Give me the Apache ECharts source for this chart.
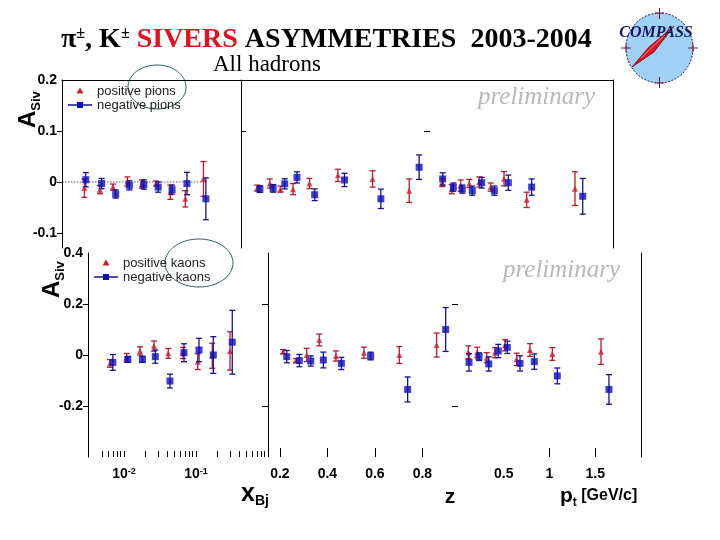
<!DOCTYPE html>
<html><head><meta charset="utf-8">
<script src="https://cdn.jsdelivr.net/npm/echarts@6/dist/echarts.min.js"></script>
<style>html,body{margin:0;padding:0;background:#fff}#c{width:720px;height:540px}</style>
</head><body><div id="c"></div>
<script>
// ---------- data: [x, asymmetry, error] ----------
// top panel: all hadrons (pions)
const pipXbj = [[0.0065,-0.012,0.018],[0.0107,-0.015,0.008],[0.0163,-0.010,0.006],[0.0259,0.001,0.009],[0.0412,-0.004,0.008],[0.0653,-0.003,0.005],[0.103,-0.020,0.014],[0.167,-0.033,0.016],[0.299,0.006,0.034]];
const pimXbj = [[0.0068,0.0045,0.014],[0.0113,-0.003,0.010],[0.0178,-0.0235,0.008],[0.0276,-0.0067,0.009],[0.0440,-0.005,0.009],[0.0697,-0.010,0.010],[0.109,-0.015,0.009],[0.176,-0.003,0.022],[0.323,-0.033,0.041]];
const pipZ = [[0.219,-0.012,0.006],[0.272,-0.003,0.009],[0.317,-0.014,0.006],[0.370,-0.014,0.011],[0.440,-0.003,0.010],[0.560,0.013,0.012],[0.707,0.006,0.016],[0.862,-0.017,0.023]];
const pimZ = [[0.230,-0.014,0.0065],[0.286,-0.0125,0.0075],[0.335,-0.0035,0.010],[0.387,0.009,0.011],[0.462,-0.025,0.0115],[0.588,0.004,0.013],[0.742,-0.033,0.019],[0.904,0.029,0.024]];
const pipPt = [[0.134,-0.001,0.008],[0.237,-0.014,0.009],[0.335,-0.007,0.011],[0.430,-0.003,0.008],[0.539,0.000,0.010],[0.663,-0.010,0.008],[0.809,0.0065,0.014],[1.057,-0.035,0.015],[1.585,-0.013,0.033]];
const pimPt = [[0.139,0.006,0.012],[0.255,-0.010,0.008],[0.353,-0.014,0.008],[0.462,-0.017,0.009],[0.565,-0.0014,0.0105],[0.703,-0.017,0.009],[0.856,-0.0014,0.015],[1.111,-0.010,0.016],[1.669,-0.028,0.035]];
// bottom panel: kaons
const kpXbj = [[0.0064,-0.033,0.015],[0.0109,-0.010,0.016],[0.0167,0.016,0.016],[0.0261,0.035,0.020],[0.0412,0.0065,0.019],[0.066,0.008,0.022],[0.1056,-0.026,0.031],[0.168,-0.003,0.049],[0.297,0.016,0.075]];
const kmXbj = [[0.0070,-0.029,0.031],[0.0113,-0.017,0.011],[0.0180,-0.017,0.012],[0.0272,-0.0065,0.026],[0.0435,-0.102,0.027],[0.0681,0.009,0.035],[0.110,0.0196,0.046],[0.174,0.0,0.072],[0.319,0.05,0.125]];
const kpZ = [[0.214,0.013,0.008],[0.268,-0.022,0.008],[0.313,0.0,0.026],[0.366,0.059,0.023],[0.436,-0.004,0.020],[0.554,0.009,0.022],[0.703,0.0,0.033],[0.860,0.039,0.047]];
const kmZ = [[0.229,-0.0065,0.024],[0.282,-0.022,0.024],[0.330,-0.0235,0.020],[0.383,-0.0196,0.031],[0.459,-0.033,0.024],[0.582,-0.004,0.015],[0.738,-0.135,0.049],[0.898,0.100,0.086]];
const kpPt = [[0.113,0.0106,0.025],[0.211,0.0106,0.020],[0.314,-0.0106,0.020],[0.404,0.009,0.020],[0.514,0.038,0.022],[0.641,-0.017,0.024],[0.787,0.0196,0.025],[1.031,0.004,0.025],[1.563,0.013,0.050]];
const kmPt = [[0.120,-0.029,0.034],[0.230,-0.0065,0.015],[0.336,-0.035,0.028],[0.440,0.0157,0.026],[0.539,0.030,0.024],[0.678,-0.033,0.030],[0.834,-0.026,0.030],[1.085,-0.082,0.031],[1.650,-0.135,0.058]];
const zeroLineX = [0.0032, 0.33];

// ---------- axes ----------
const xbjRange = [0.0031623, 1];
const zRange = [0.15, 0.95];
const ptRange = [0, 2];
const topRange = [-0.12941, 0.2];
const botRange = [-0.4, 0.4];
const yLabelsTop = [-0.1, 0, 0.1, 0.2];
const yTicksTop = [-0.1, 0, 0.1];
const yLabelsBot = [-0.2, 0, 0.2, 0.4];
const yTicksBot = [-0.2, 0, 0.2];
const xbjLabels = [0.01, 0.1];
const xbjTicks = [0.005,0.006,0.007,0.008,0.009,0.01,0.02,0.03,0.04,0.05,0.06,0.07,0.08,0.09,0.1,0.2,0.3,0.4,0.5,0.6,0.7,0.8,0.9];
const zTicks = [0.2, 0.4, 0.6, 0.8];
const ptLabels = [0.5, 1, 1.5];
const ptTicks = [1, 1.5];

const SANS = 'Liberation Sans', SERIF = 'Liberation Serif';
const RED = '#cc1f30', REDBAR = '#b81c2e', BLUE = '#0e0ebe', BLUEBAR = '#141488';

const chart = echarts.init(document.getElementById('c'), null, {renderer: 'canvas'});

const grids = [
  {left: 62, top: 80, width: 179, height: 168},
  {left: 241, top: 80, width: 189, height: 168},
  {left: 430, top: 80, width: 183, height: 168},
  {left: 88, top: 253, width: 180, height: 204},
  {left: 268, top: 253, width: 190, height: 204},
  {left: 458, top: 253, width: 183, height: 204}
].map(g => Object.assign({containLabel: false, outerBoundsMode: 'none'}, g));

const blackLine = {color: '#000', width: 1};
const lblStyle = {color: '#000', fontFamily: SANS, fontWeight: 'bold', fontSize: 14};

function ax(extra) {
  return Object.assign({
    splitLine: {show: false},
    axisLine: {show: false, onZero: false, lineStyle: blackLine},
    axisTick: {show: false},
    axisLabel: {show: false}
  }, extra);
}

const xAxes = [
  ax({gridIndex: 0, type: 'log', min: xbjRange[0], max: xbjRange[1], position: 'top', axisLine: {show: true, onZero: false, lineStyle: blackLine}}),
  ax({gridIndex: 1, type: 'value', min: zRange[0], max: zRange[1], position: 'top', axisLine: {show: true, onZero: false, lineStyle: blackLine}}),
  ax({gridIndex: 2, type: 'value', min: ptRange[0], max: ptRange[1], position: 'top', axisLine: {show: true, onZero: false, lineStyle: blackLine}}),
  ax({gridIndex: 3, type: 'log', min: xbjRange[0], max: xbjRange[1], position: 'bottom',
      axisTick: {show: true, inside: true, length: 6, customValues: xbjTicks, lineStyle: blackLine},
      axisLabel: Object.assign({show: true, margin: 10, customValues: xbjLabels,
        formatter: v => v < 0.05 ? '{n|10}{s|-2}' : '{n|10}{s|-1}',
        rich: {n: Object.assign({}, lblStyle), s: Object.assign({}, lblStyle, {fontSize: 9, verticalAlign: 'top'})}}, lblStyle)}),
  ax({gridIndex: 4, type: 'value', min: zRange[0], max: zRange[1], position: 'bottom',
      axisTick: {show: true, inside: true, length: 9, customValues: zTicks, lineStyle: blackLine},
      axisLabel: Object.assign({show: true, margin: 10, customValues: zTicks}, lblStyle)}),
  ax({gridIndex: 5, type: 'value', min: ptRange[0], max: ptRange[1], position: 'bottom',
      axisTick: {show: true, inside: true, length: 9, customValues: ptTicks, lineStyle: blackLine},
      axisLabel: Object.assign({show: true, margin: 10, customValues: ptLabels}, lblStyle)})
];

const yAxes = [
  // 0 top x-panel left
  ax({gridIndex: 0, type: 'value', min: topRange[0], max: topRange[1], position: 'left',
      axisLine: {show: true, onZero: false, lineStyle: blackLine},
      axisTick: {show: true, inside: false, length: 5, customValues: yTicksTop, lineStyle: blackLine},
      axisLabel: Object.assign({show: true, margin: 5, customValues: yLabelsTop}, lblStyle)}),
  // 1 top z-panel left (divider)
  ax({gridIndex: 1, type: 'value', min: topRange[0], max: topRange[1], position: 'left',
      axisLine: {show: true, onZero: false, lineStyle: blackLine},
      axisTick: {show: true, inside: true, length: 5, customValues: [0.1], lineStyle: blackLine}}),
  // 2 top z-panel right (ticks only)
  ax({gridIndex: 1, type: 'value', min: topRange[0], max: topRange[1], position: 'right',
      axisTick: {show: true, inside: true, length: 6, customValues: [0.1], lineStyle: blackLine}}),
  // 3 top pt-panel right border
  ax({gridIndex: 2, type: 'value', min: topRange[0], max: topRange[1], position: 'right',
      axisLine: {show: true, onZero: false, lineStyle: blackLine}}),
  // 4 bottom x-panel left
  ax({gridIndex: 3, type: 'value', min: botRange[0], max: botRange[1], position: 'left',
      axisLine: {show: true, onZero: false, lineStyle: blackLine},
      axisTick: {show: true, inside: false, length: 5, customValues: yTicksBot, lineStyle: blackLine},
      axisLabel: Object.assign({show: true, margin: 5, customValues: yLabelsBot}, lblStyle)}),
  // 5 bottom x-panel right (divider)
  ax({gridIndex: 3, type: 'value', min: botRange[0], max: botRange[1], position: 'right',
      axisLine: {show: true, onZero: false, lineStyle: blackLine},
      axisTick: {show: true, inside: true, length: 6, customValues: [-0.2, 0.2], lineStyle: blackLine}}),
  // 6 bottom z-panel right (ticks only)
  ax({gridIndex: 4, type: 'value', min: botRange[0], max: botRange[1], position: 'right',
      axisTick: {show: true, inside: true, length: 6, customValues: [-0.2, 0.2], lineStyle: blackLine}}),
  // 7 bottom pt-panel right border
  ax({gridIndex: 5, type: 'value', min: botRange[0], max: botRange[1], position: 'right',
      axisLine: {show: true, onZero: false, lineStyle: blackLine}})
];

function errBar(color) {
  return function (params, api) {
    const x = api.value(0), y = api.value(1), e = api.value(2);
    const a = api.coord([x, y + e]), b = api.coord([x, y - e]);
    const w = 3, st = {stroke: color, lineWidth: 1.3};
    return {type: 'group', children: [
      {type: 'line', shape: {x1: a[0], y1: a[1], x2: b[0], y2: b[1]}, style: st},
      {type: 'line', shape: {x1: a[0] - w, y1: a[1], x2: a[0] + w, y2: a[1]}, style: st},
      {type: 'line', shape: {x1: b[0] - w, y1: b[1], x2: b[0] + w, y2: b[1]}, style: st}
    ]};
  };
}

const series = [];
series.push({type: 'line', xAxisIndex: 0, yAxisIndex: 0, data: zeroLineX.map(x => [x, 0]), symbol: 'none',
  lineStyle: {type: [1, 2], color: '#000', width: 1}, z: 1, silent: true});

function panel(xi, yi, pos, neg, names) {
  series.push({type: 'custom', name: names[0] + ' err', xAxisIndex: xi, yAxisIndex: yi, data: pos, encode: {x: 0, y: 1},
    renderItem: errBar(REDBAR), z: 2, silent: true});
  series.push({type: 'scatter', name: names[0], xAxisIndex: xi, yAxisIndex: yi, data: pos.map(d => [d[0], d[1]]),
    symbol: 'triangle', symbolSize: 6, itemStyle: {color: RED}, z: 3, silent: true});
  series.push({type: 'custom', name: names[1] + ' err', xAxisIndex: xi, yAxisIndex: yi, data: neg, encode: {x: 0, y: 1},
    renderItem: errBar(BLUEBAR), z: 4, silent: true});
  series.push({type: 'scatter', name: names[1], xAxisIndex: xi, yAxisIndex: yi, data: neg.map(d => [d[0], d[1]]),
    symbol: 'rect', symbolSize: 7, itemStyle: {color: BLUE}, z: 5, silent: true});
}
const pions = ['positive pions', 'negative pions'], kaons = ['positive kaons', 'negative kaons'];
panel(0, 0, pipXbj, pimXbj, pions);
panel(1, 1, pipZ, pimZ, pions);
panel(2, 3, pipPt, pimPt, pions);
panel(3, 4, kpXbj, kmXbj, kaons);
panel(4, 6, kpZ, kmZ, kaons);
panel(5, 7, kpPt, kmPt, kaons);

// ---------- decorations ----------
const bold = (size, extra) => Object.assign({fontFamily: SANS, fontWeight: 'bold', fontSize: size, fill: '#000'}, extra || {});
const serifB = (size, extra) => Object.assign({fontFamily: SERIF, fontWeight: 'bold', fontSize: size, fill: '#000'}, extra || {});
const legendText = (x, y, t) => ({type: 'text', x: x, y: y, style: {text: t, fontFamily: SANS, fontSize: 13, fill: '#222', verticalAlign: 'middle', align: 'left'}});
function legendBlock(x0, y0, names) {
  return [
    {type: 'polygon', shape: {points: [[x0 + 12, y0 - 3.5], [x0 + 15.5, y0 + 2.5], [x0 + 8.5, y0 + 2.5]]}, style: {fill: RED}},
    legendText(x0 + 29, y0, names[0]),
    {type: 'line', shape: {x1: x0, y1: y0 + 14, x2: x0 + 24, y2: y0 + 14}, style: {stroke: BLUEBAR, lineWidth: 1.5}},
    {type: 'rect', shape: {x: x0 + 9, y: y0 + 11, width: 6, height: 6}, style: {fill: BLUE}},
    legendText(x0 + 29, y0 + 14, names[1])
  ];
}

const graphic = [
  {type: 'text', x: 61, y: 40, style: {text: '{b|π}{p|±}{b|, K}{p|±}{b| }{r|SIVERS}{b| ASYMMETRIES  2003-2004}', align: 'left', verticalAlign: 'middle',
    rich: {b: serifB(28), p: serifB(16, {verticalAlign: 'top'}), r: serifB(28, {fill: '#e3101e'})}}},
  {type: 'text', x: 213, y: 65, style: {text: 'All hadrons', fontFamily: SERIF, fontSize: 23, fill: '#000', verticalAlign: 'middle', align: 'left'}},
  // logo
  {type: 'ellipse', shape: {cx: 659.5, cy: 48, rx: 33.5, ry: 35}, style: {fill: '#9fd2f6', stroke: '#1c1c6a', lineWidth: 1, lineDash: [2, 1.5]}},
  {type: 'line', shape: {x1: 659.5, y1: 8, x2: 659.5, y2: 19}, style: {stroke: '#7a1436', lineWidth: 1}},
  {type: 'line', shape: {x1: 655, y1: 13, x2: 664, y2: 13}, style: {stroke: '#7a1436', lineWidth: 1}},
  {type: 'line', shape: {x1: 659.5, y1: 77, x2: 659.5, y2: 88}, style: {stroke: '#7a1436', lineWidth: 1}},
  {type: 'line', shape: {x1: 655, y1: 83, x2: 664, y2: 83}, style: {stroke: '#7a1436', lineWidth: 1}},
  {type: 'line', shape: {x1: 621, y1: 48, x2: 631, y2: 48}, style: {stroke: '#7a1436', lineWidth: 1}},
  {type: 'line', shape: {x1: 626, y1: 44, x2: 626, y2: 52}, style: {stroke: '#7a1436', lineWidth: 1}},
  {type: 'line', shape: {x1: 688, y1: 48, x2: 698, y2: 48}, style: {stroke: '#7a1436', lineWidth: 1}},
  {type: 'line', shape: {x1: 693, y1: 44, x2: 693, y2: 52}, style: {stroke: '#7a1436', lineWidth: 1}},
  {type: 'polygon', shape: {points: [[632, 67], [649, 47], [674, 26], [654, 52]]}, style: {fill: '#dc1420', stroke: '#7a0810', lineWidth: 0.8}},
  {type: 'line', shape: {x1: 641, y1: 58, x2: 666, y2: 34}, style: {stroke: '#ffb0b0', lineWidth: 0.8}},
  {type: 'text', x: 656, y: 33, style: {text: 'COMPASS', fontFamily: SERIF, fontStyle: 'italic', fontWeight: 'bold', fontSize: 16, fill: '#16165c', align: 'center', verticalAlign: 'middle'}},
  // hand-drawn ellipses
  {type: 'ellipse', shape: {cx: 157, cy: 87, rx: 29, ry: 22}, style: {fill: 'none', stroke: '#2c6262', lineWidth: 1}},
  {type: 'ellipse', shape: {cx: 199, cy: 263, rx: 34, ry: 24}, style: {fill: 'none', stroke: '#2c6262', lineWidth: 1}},
  // preliminary
  {type: 'text', x: 478, y: 97, style: {text: 'preliminary', fontFamily: SERIF, fontStyle: 'italic', fontSize: 25, fill: '#b8b8b8', align: 'left', verticalAlign: 'middle'}},
  {type: 'text', x: 503, y: 270, style: {text: 'preliminary', fontFamily: SERIF, fontStyle: 'italic', fontSize: 25, fill: '#b8b8b8', align: 'left', verticalAlign: 'middle'}},
  // y names
  {type: 'text', x: 28, y: 128, rotation: Math.PI / 2, style: {text: '{a|A}{s|Siv}', align: 'left', verticalAlign: 'middle',
    rich: {a: bold(24, {lineHeight: 30}), s: bold(13, {lineHeight: 12, verticalAlign: 'bottom'})}}},
  {type: 'text', x: 52, y: 298, rotation: Math.PI / 2, style: {text: '{a|A}{s|Siv}', align: 'left', verticalAlign: 'middle',
    rich: {a: bold(24, {lineHeight: 30}), s: bold(13, {lineHeight: 12, verticalAlign: 'bottom'})}}},
  // x names
  {type: 'text', x: 241, y: 494, style: {text: '{a|x}{b|Bj}', align: 'left', verticalAlign: 'middle',
    rich: {a: bold(25, {lineHeight: 28}), b: bold(14, {lineHeight: 14, verticalAlign: 'bottom'})}}},
  {type: 'text', x: 450, y: 497, style: {text: 'z', align: 'center', verticalAlign: 'middle', fontFamily: SANS, fontWeight: 'bold', fontSize: 21, fill: '#000'}},
  {type: 'text', x: 560, y: 496, style: {text: '{p|p}{t|t}{g| [GeV/c]}', align: 'left', verticalAlign: 'middle',
    rich: {p: bold(21, {lineHeight: 26}), t: bold(12, {lineHeight: 10, verticalAlign: 'bottom'}), g: bold(16)}}}
].concat(legendBlock(68, 91, pions), legendBlock(94, 263, kaons));

chart.setOption({
  animation: false,
  backgroundColor: '#fff',
  textStyle: {fontFamily: SANS},
  grid: grids,
  xAxis: xAxes,
  yAxis: yAxes,
  series: series,
  graphic: graphic
});
</script>
</body></html>
